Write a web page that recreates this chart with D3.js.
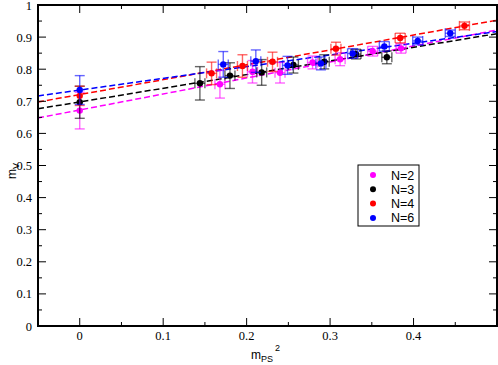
<!DOCTYPE html>
<html>
<head>
<meta charset="utf-8">
<script src="https://cdn.jsdelivr.net/npm/d3@7"></script>
<style>
  body { margin: 0; background: #fff; }
  svg text { fill: #000; }
</style>
</head>
<body>
<div id="chart"></div>
<script>
// values: [x, y, dx, dy]
const n2 = [[0, 0.671, 0, 0.057], [0.168, 0.753, 0.006, 0.043], [0.207, 0.792, 0.006, 0.035],
  [0.24, 0.789, 0.006, 0.032], [0.279, 0.821, 0.006, 0.02], [0.312, 0.831, 0.006, 0.02],
  [0.351, 0.856, 0.006, 0.015], [0.385, 0.865, 0.006, 0.015]];
const n3 = [[0, 0.697, 0, 0.05], [0.144, 0.756, 0.006, 0.052], [0.18, 0.78, 0.006, 0.04],
  [0.218, 0.79, 0.006, 0.04], [0.256, 0.813, 0.006, 0.025], [0.293, 0.823, 0.006, 0.022],
  [0.331, 0.847, 0.006, 0.015], [0.368, 0.837, 0.006, 0.02]];
const n4 = [[0, 0.717, 0, 0.03], [0.158, 0.787, 0.006, 0.035], [0.195, 0.81, 0.006, 0.035],
  [0.231, 0.823, 0.006, 0.03], [0.307, 0.864, 0.006, 0.02], [0.384, 0.897, 0.006, 0.015],
  [0.461, 0.935, 0.006, 0.012]];
const n6 = [[0, 0.735, 0, 0.045], [0.172, 0.815, 0.006, 0.04], [0.211, 0.825, 0.006, 0.035],
  [0.249, 0.812, 0.006, 0.028], [0.289, 0.818, 0.006, 0.02], [0.327, 0.849, 0.006, 0.015],
  [0.365, 0.871, 0.006, 0.015], [0.405, 0.888, 0.006, 0.012], [0.444, 0.912, 0.006, 0.01]];

// linear fits: [intercept, slope]
const fits = [[0.673, 0.498], [0.698, 0.4255], [0.721, 0.4636], [0.735, 0.3645]];
const names = ['N=2', 'N=3', 'N=4', 'N=6'];
const colors = ['#ff00ff', '#000000', '#ff0000', '#0000ff'];
const xTicks = [0, 0.1, 0.2, 0.3, 0.4];
const yTicks = [0, 0.1, 0.2, 0.3, 0.4, 0.5, 0.6, 0.7, 0.8, 0.9, 1];

const w = 498, h = 365;
const m = {left: 38, right: 497, top: 5, bottom: 326};

const svg = d3.select('#chart').append('svg')
  .attr('width', w).attr('height', h)
  .style('font-family', '"Liberation Serif", serif');

const x = d3.scaleLinear().domain([-0.05, 0.5]).range([m.left, m.right]);
const y = d3.scaleLinear().domain([0, 1]).range([m.bottom, m.top]);

const plot = svg.append('g');

// fit lines
fits.forEach((f, i) => {
  const xs = x.domain();
  plot.append('line')
    .attr('x1', x(xs[0])).attr('y1', y(f[0] + f[1] * xs[0]))
    .attr('x2', x(xs[1])).attr('y2', y(f[0] + f[1] * xs[1]))
    .attr('stroke', colors[i]).attr('stroke-width', 1.5)
    .attr('stroke-dasharray', '6,3');
});

// points with error bars
[n2, n3, n4, n6].forEach((set, i) => {
  const g = plot.append('g');
  const eb = g.append('g').attr('stroke', colors[i]).attr('stroke-width', 1.4)
    .attr('stroke-opacity', 0.6).attr('fill', 'none');
  const cap = 5;
  set.forEach(d => {
    const cx = x(d[0]), cy = y(d[1]);
    const y0 = y(d[1] - d[3]), y1 = y(d[1] + d[3]);
    eb.append('line').attr('x1', cx).attr('x2', cx).attr('y1', y0).attr('y2', y1);
    eb.append('line').attr('x1', cx - cap).attr('x2', cx + cap).attr('y1', y0).attr('y2', y0);
    eb.append('line').attr('x1', cx - cap).attr('x2', cx + cap).attr('y1', y1).attr('y2', y1);
    if (d[2] > 0) {
      const x0 = x(d[0] - d[2]), x1 = x(d[0] + d[2]);
      eb.append('line').attr('x1', x0).attr('x2', x1).attr('y1', cy).attr('y2', cy);
      eb.append('line').attr('x1', x0).attr('x2', x0).attr('y1', cy - cap).attr('y2', cy + cap);
      eb.append('line').attr('x1', x1).attr('x2', x1).attr('y1', cy - cap).attr('y2', cy + cap);
    }
  });
  g.selectAll('circle').data(set).enter().append('circle')
    .attr('cx', d => x(d[0])).attr('cy', d => y(d[1]))
    .attr('r', 3.2).attr('fill', colors[i]);
});

// axes, ticks inward on all sides
const axes = svg.append('g');
const major = 8, minor = 4;
function xt(v, len) {
  axes.append('line').attr('x1', x(v)).attr('x2', x(v)).attr('y1', m.bottom).attr('y2', m.bottom - len)
    .attr('stroke', '#000').attr('stroke-width', 1);
  axes.append('line').attr('x1', x(v)).attr('x2', x(v)).attr('y1', m.top).attr('y2', m.top + len)
    .attr('stroke', '#000').attr('stroke-width', 1);
}
function yt(v, len) {
  axes.append('line').attr('x1', m.left).attr('x2', m.left + len).attr('y1', y(v)).attr('y2', y(v))
    .attr('stroke', '#000').attr('stroke-width', 1);
  axes.append('line').attr('x1', m.right).attr('x2', m.right - len).attr('y1', y(v)).attr('y2', y(v))
    .attr('stroke', '#000').attr('stroke-width', 1);
}
d3.range(0, 50, 5).forEach(k => xt(k / 100, k % 10 === 0 ? major : minor));
d3.range(5, 100, 5).forEach(k => yt(k / 100, k % 10 === 0 ? major : minor));
axes.append('rect').attr('x', m.left).attr('y', m.top)
  .attr('width', m.right - m.left).attr('height', m.bottom - m.top)
  .attr('fill', 'none').attr('stroke', '#000').attr('stroke-width', 2);

axes.selectAll('.xl').data(xTicks).enter().append('text')
  .attr('x', d => x(d)).attr('y', m.bottom + 14)
  .attr('text-anchor', 'middle').attr('font-size', 12.5)
  .text(d => d3.format('')(d));
axes.selectAll('.yl').data(yTicks).enter().append('text')
  .attr('x', m.left - 6).attr('y', d => y(d) + 4.5)
  .attr('text-anchor', 'end').attr('font-size', 12.5)
  .text(d => d3.format('')(d));

// axis titles
const sans = '"Liberation Sans", Arial, sans-serif';
const xl = svg.append('text').attr('x', 251).attr('y', 359)
  .style('font-family', sans).attr('font-size', 12);
xl.append('tspan').text('m');
xl.append('tspan').attr('dy', 3).attr('font-size', 9).text('PS');
xl.append('tspan').attr('dy', -11).attr('dx', 2).attr('font-size', 9).text('2');

const yl = svg.append('text').attr('transform', 'translate(16,179) rotate(-90)')
  .style('font-family', sans).attr('font-size', 12);
yl.append('tspan').text('m');
yl.append('tspan').attr('dy', 3).attr('font-size', 9).text('V');

// legend
const lg = svg.append('g');
lg.append('rect').attr('x', 358).attr('y', 165).attr('width', 61).attr('height', 61)
  .attr('fill', '#fff').attr('stroke', '#000').attr('stroke-width', 1);
names.forEach((n, i) => {
  const ly = 175 + i * 14.3;
  lg.append('circle').attr('cx', 373).attr('cy', ly).attr('r', 3).attr('fill', colors[i]);
  lg.append('text').attr('x', 391).attr('y', ly + 4.5)
    .style('font-family', sans).attr('font-size', 12.5).text(n);
});
</script>
</body>
</html>
